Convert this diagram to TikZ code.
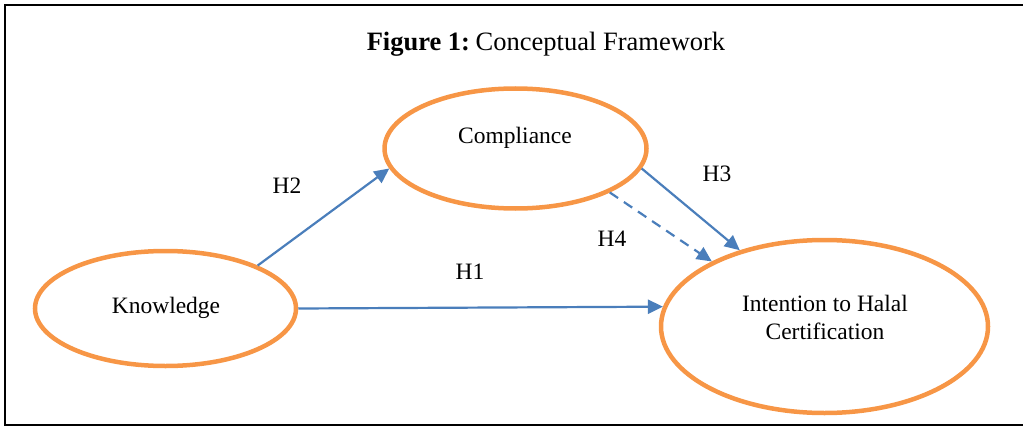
\documentclass[tikz,border=0pt]{standalone}
\usepackage{fontspec}
\setmainfont{Liberation Serif}
\usetikzlibrary{arrows.meta,shapes.geometric}
\definecolor{ovalorange}{HTML}{F79646}
\definecolor{arrowblue}{HTML}{4A7EBB}
\tikzset{
  oval/.style={draw=ovalorange,line width=4.5pt,ellipse,inner sep=0pt},
  link/.style={draw=arrowblue,line width=2.2pt,-{Triangle[length=15pt,width=14pt]}},
  hlabel/.style={font=\fontsize{23.5}{28}\selectfont}
}

\begin{document}
\begin{tikzpicture}[x=1pt,y=-1pt]
          \useasboundingbox (0,0) rectangle (1023,428);
          \draw[line width=2pt] (1023,5)--(5,5)--(5,425)--(1023,425);
          \node[font=\fontsize{26.5}{30}\selectfont] (title) at (546,44) {\textbf{Figure 1:}\hspace{-0.12em} Conceptual Framework};
          % constructs
          \node[oval,minimum width=261pt,minimum height=115pt] (know) at (165.5,308.5) {};
          \node[oval,minimum width=262pt,minimum height=120pt] (comp) at (515.5,148.5) {};
          \node[oval,minimum width=327pt,minimum height=173pt] (intent) at (824.5,326.5) {};
          \node[hlabel] (knowtext) at (166,308) {Knowledge};
          \node[hlabel] (comptext) at (515,138) {Compliance};
          \node[hlabel,align=center] (intenttext) at (825,317) {Intention to Halal\\Certification};
          % hypotheses
          \draw[link] (know.25)--(comp.189);
          \draw[link] (know.east)--(intent.173);
          \draw[link] (comp.-9)--(intent.138);
          \draw[link,dash pattern=on 10pt off 7pt] (comp.-25)--(intent.150);
          \node[hlabel] (h1) at (470,272) {H1};
          \node[hlabel] (h2) at (287,186) {H2};
          \node[hlabel] (h3) at (717,174) {H3};
          \node[hlabel] (h4) at (612,239) {H4};
        \end{tikzpicture}
\end{document}
